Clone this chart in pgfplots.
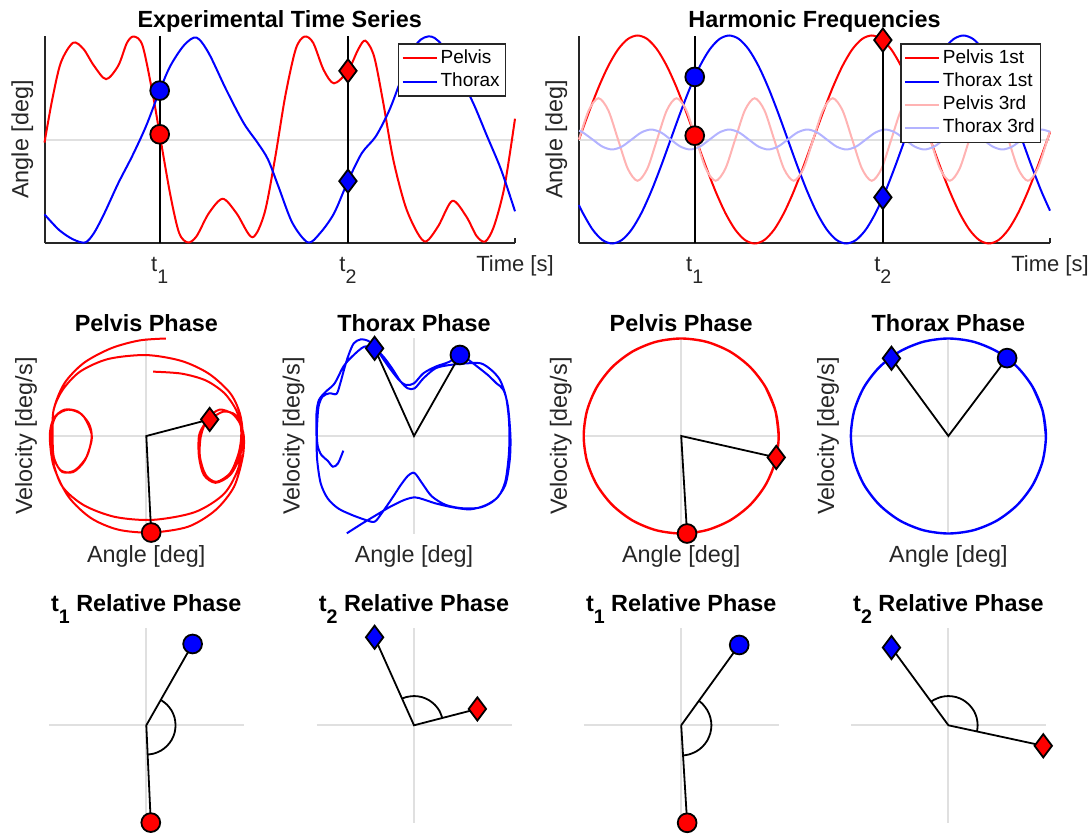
\documentclass[border=0pt]{standalone}
\usepackage{fontspec}
\setmainfont{Liberation Sans}
\usepackage{pgfplots}
\usepackage{pgfplotstable}
\pgfplotsset{compat=1.18}
\definecolor{axgray}{RGB}{38,38,38}
\definecolor{zgray}{RGB}{224,224,224}
\definecolor{pred3}{RGB}{255,179,179}
\definecolor{tblue3}{RGB}{179,179,255}
\newcommand{\lblfont}{\fontsize{11.7}{14}\selectfont}
\newcommand{\ttlfont}{\fontsize{11.7}{14}\selectfont\bfseries}
\newcommand{\tickfont}{\fontsize{11}{13}\selectfont}
\newcommand{\legfont}{\fontsize{9.5}{11}\selectfont}
\newcommand{\tsub}[1]{\raisebox{-5.8pt}{\fontsize{9.8}{11}\selectfont #1}}

\pgfplotstableread{
t p
128 -0.03
150 0.38
175 0.74
210 0.93
240 0.87
270 0.71
305 0.58
340 0.71
365 0.93
385 0.99
410 0.90
440 0.42
459 0.05
490 -0.54
515 -0.90
540 -0.99
565 -0.93
600 -0.71
640 -0.57
680 -0.71
725 -0.94
760 -0.71
790 -0.19
820 0.42
850 0.87
875 0.99
900 0.93
930 0.67
960 0.54
1000 0.66
1030 0.87
1050 0.95
1075 0.80
1100 0.38
1130 -0.19
1165 -0.64
1200 -0.90
1225 -0.98
1260 -0.83
1300 -0.59
1340 -0.74
1370 -0.93
1395 -0.98
1420 -0.83
1450 -0.45
1480 0.20
}\tsPelvis

\pgfplotstableread{
t p
128 -0.72
170 -0.87
210 -0.96
245 -0.99
270 -0.90
300 -0.71
340 -0.42
380 -0.16
420 0.13
459 0.47
490 0.71
530 0.91
565 0.98
600 0.83
650 0.48
700 0.16
740 -0.03
770 -0.19
800 -0.45
840 -0.80
885 -0.99
920 -0.90
960 -0.71
1000 -0.40
1040 -0.13
1080 0.03
1120 0.29
1160 0.64
1200 0.93
1240 0.99
1280 0.87
1320 0.61
1360 0.35
1400 0.03
1440 -0.29
1480 -0.69
}\tsThorax

\pgfplotstableread{
x r1 r3
0 0 0
15 0.259 0.281
30 0.5 0.397
45 0.707 0.281
60 0.866 0
75 0.966 -0.281
90 1 -0.397
105 0.966 -0.281
120 0.866 0
135 0.707 0.281
150 0.5 0.397
165 0.259 0.281
180 0 0
195 -0.259 -0.281
210 -0.5 -0.397
225 -0.707 -0.281
240 -0.866 0
255 -0.966 0.281
270 -1 0.397
285 -0.966 0.281
300 -0.866 0
315 -0.707 -0.281
330 -0.5 -0.397
345 -0.259 -0.281
360 0 0
375 0.259 0.281
390 0.5 0.397
405 0.707 0.281
420 0.866 0
435 0.966 -0.281
450 1 -0.397
465 0.966 -0.281
480 0.866 0
495 0.707 0.281
510 0.5 0.397
525 0.259 0.281
540 0 0
555 -0.259 -0.281
570 -0.5 -0.397
585 -0.707 -0.281
600 -0.866 0
615 -0.966 0.281
630 -1 0.397
645 -0.966 0.281
660 -0.866 0
675 -0.707 -0.281
690 -0.5 -0.397
705 -0.259 -0.281
720 0 0
724 0.070 0.083
}\harmPelvis

\pgfplotstableread{
x b1 b3
0 -0.631 0.085
5.9 -0.707 0.068
20.9 -0.866 0
35.9 -0.966 -0.068
50.9 -1 -0.096
65.9 -0.966 -0.068
80.9 -0.866 0
95.9 -0.707 0.068
110.9 -0.5 0.096
125.9 -0.259 0.068
140.9 0 0
155.9 0.259 -0.068
170.9 0.5 -0.096
185.9 0.707 -0.068
200.9 0.866 0
215.9 0.966 0.068
230.9 1 0.096
245.9 0.966 0.068
260.9 0.866 0
275.9 0.707 -0.068
290.9 0.5 -0.096
305.9 0.259 -0.068
320.9 0 0
335.9 -0.259 0.068
350.9 -0.5 0.096
365.9 -0.707 0.068
380.9 -0.866 0
395.9 -0.966 -0.068
410.9 -1 -0.096
425.9 -0.966 -0.068
440.9 -0.866 0
455.9 -0.707 0.068
470.9 -0.5 0.096
485.9 -0.259 0.068
500.9 0 0
515.9 0.259 -0.068
530.9 0.5 -0.096
545.9 0.707 -0.068
560.9 0.866 0
575.9 0.966 0.068
590.9 1 0.096
605.9 0.966 0.068
620.9 0.866 0
635.9 0.707 -0.068
650.9 0.5 -0.096
665.9 0.259 -0.068
680.9 0 0
695.9 -0.259 0.068
710.9 -0.5 0.096
724 -0.684 0.074
}\harmThorax

\pgfplotsset{
  topax/.style={scale only axis, height=104pt, anchor=south west,
    ymin=-1, ymax=1, clip=false,
    axis x line=bottom, axis y line=left,
    axis line style={-, draw=axgray, line width=1pt},
    ytick=\empty,
    xticklabels={t\tsub{1}, t\tsub{2}, Time [s]},
    tick align=inside, major tick length=2.5pt,
    xtick style={draw=axgray, line width=1pt},
    xticklabel style={font=\tickfont, text=axgray, anchor=base, yshift=-14pt},
    legend cell align=left,
    legend style={at={(1,1)}, anchor=north east, xshift=-4.5pt, yshift=-3.9pt,
      draw=axgray, line width=0.75pt, font=\legfont,
      inner xsep=1.45pt, inner ysep=1.35pt, row sep=0pt,
      nodes={inner xsep=1.3pt, inner ysep=1.3pt, text height=7pt, text depth=2pt}},
    legend image code/.code={\draw[##1, line width=1pt] (0pt,0pt) -- (17.25pt,0pt);},
  },
  phase/.style={scale only axis, width=97.5pt, height=97.5pt, anchor=south west,
    xmin=-1, xmax=1, ymin=-1, ymax=1, hide axis, clip=false},
  zline/.style={zgray, line width=1pt, forget plot},
  mcirc/.style={only marks, mark=*, mark size=4.7pt, mark options={fill=#1, draw=black, line width=0.9pt}, forget plot},
  mdiam/.style={only marks, mark=diamond*, mark size=5.8pt, mark options={fill=#1, draw=black, line width=0.9pt}, forget plot},
  bl/.style={black, line width=0.9pt, forget plot},
}

\begin{document}
\begin{tikzpicture}
\path[use as bounding box] (0pt,0pt) rectangle (546pt,-417pt);

% ---------------- Experimental time series ----------------
\begin{axis}[topax, at={(22.25pt,-121.75pt)}, width=235.25pt,
  xmin=128, xmax=1480, xtick={459,1000,1480}]
\addplot[zline] coordinates {(128,0) (1480,0)};
\addplot[red, line width=1pt, smooth] table[x=t, y=p] {\tsPelvis};
\addlegendentry{Pelvis}
\addplot[blue, line width=1pt, smooth] table[x=t, y=p] {\tsThorax};
\addlegendentry{Thorax}
\addplot[black, line width=1pt, forget plot] coordinates {(459,-1) (459,1)};
\addplot[black, line width=1pt, forget plot] coordinates {(1000,-1) (1000,1)};
\addplot[mcirc=blue] coordinates {(459,0.47)};
\addplot[mcirc=red] coordinates {(459,0.05)};
\addplot[mdiam=red] coordinates {(1000,0.66)};
\addplot[mdiam=blue] coordinates {(1000,-0.40)};
\node[font=\ttlfont, anchor=base] at (axis description cs:0.5,1.0385) {Experimental Time Series};
\node[font=\lblfont, text=axgray, rotate=90] at (axis description cs:-0.047,0.5) {Angle [deg]};
\end{axis}

% ---------------- Harmonic frequencies ----------------
\begin{axis}[topax, at={(289.5pt,-121.75pt)}, width=235.5pt,
  xmin=0, xmax=724, xtick={177.9,467.1,724}]
\addplot[zline] coordinates {(0,0) (724,0)};
\addplot[red, line width=1pt, smooth] table[x=x, y=r1] {\harmPelvis};
\addlegendentry{Pelvis 1st}
\addplot[blue, line width=1pt, smooth] table[x=x, y=b1] {\harmThorax};
\addlegendentry{Thorax 1st}
\addplot[pred3, line width=1pt, smooth] table[x=x, y=r3] {\harmPelvis};
\addlegendentry{Pelvis 3rd}
\addplot[tblue3, line width=1pt, smooth] table[x=x, y=b3] {\harmThorax};
\addlegendentry{Thorax 3rd}
\addplot[black, line width=1pt, forget plot] coordinates {(177.9,-1) (177.9,1)};
\addplot[black, line width=1pt, forget plot] coordinates {(467.1,-1) (467.1,1)};
\addplot[mcirc=blue] coordinates {(177.9,0.602)};
\addplot[mcirc=red] coordinates {(177.9,0.037)};
\addplot[mdiam=red] coordinates {(467.1,0.956)};
\addplot[mdiam=blue] coordinates {(467.1,-0.556)};
\node[font=\ttlfont, anchor=base] at (axis description cs:0.5,1.0385) {Harmonic Frequencies};
\node[font=\lblfont, text=axgray, rotate=90] at (axis description cs:-0.048,0.5) {Angle [deg]};
\end{axis}

% ---------------- Pelvis phase (experimental) ----------------
\begin{axis}[phase, at={(24.4pt,-266.75pt)}]
\addplot[zline] coordinates {(-1,0) (1,0)};
\addplot[zline] coordinates {(0,-1) (0,1)};
\addplot[red, line width=1pt, smooth] coordinates {
(0.07,0.66) (0.36,0.64) (0.61,0.57) (0.80,0.44) (0.92,0.27) (0.97,0.10) (0.97,-0.05) (0.94,-0.20) (0.86,-0.38) (0.72,-0.47) (0.61,-0.40) (0.55,-0.21) (0.56,0) (0.63,0.18) (0.75,0.27) (0.88,0.23) (0.96,0.13) (1.0,0)
(0.99,-0.21) (0.90,-0.52) (0.71,-0.76) (0.43,-0.93) (0.05,-0.99) (-0.29,-0.96) (-0.57,-0.84) (-0.80,-0.62) (-0.95,-0.31) (-0.99,0)
(-0.95,0.18) (-0.84,0.27) (-0.70,0.25) (-0.59,0.13) (-0.56,-0.01) (-0.61,-0.21) (-0.73,-0.35) (-0.86,-0.37) (-0.94,-0.25) (-0.965,-0.11) (-0.965,0.02)
(-0.95,0.27) (-0.86,0.47) (-0.68,0.66) (-0.39,0.79) (0,0.83) (0.36,0.77) (0.64,0.64) (0.86,0.44) (0.96,0.23) (0.99,0)
(0.96,-0.21) (0.86,-0.40) (0.71,-0.48) (0.59,-0.40) (0.54,-0.21) (0.54,0) (0.59,0.11) (0.65,0.17) (0.79,0.25) (0.91,0.22) (0.97,0.10) (0.975,0)
(0.95,-0.31) (0.80,-0.59) (0.50,-0.78) (0.07,-0.86) (-0.32,-0.83) (-0.64,-0.71) (-0.86,-0.52) (-0.96,-0.25) (-0.98,0)
(-0.93,0.20) (-0.80,0.27) (-0.66,0.22) (-0.58,0.08) (-0.56,-0.04) (-0.63,-0.25) (-0.75,-0.37) (-0.88,-0.35) (-0.95,-0.21) (-0.96,0)
(-0.95,0.27) (-0.84,0.54) (-0.64,0.75) (-0.36,0.90) (-0.07,0.98) (0.20,1.0)};
\addplot[bl] coordinates {(0.65,0.17) (0,0) (0.05,-0.99)};
\addplot[mdiam=red] coordinates {(0.65,0.17)};
\addplot[mcirc=red] coordinates {(0.05,-0.99)};
\node[font=\ttlfont, anchor=base] at (axis description cs:0.5,1.038) {Pelvis Phase};
\node[font=\lblfont, text=axgray, rotate=90] at (axis description cs:-0.117,0.5) {Velocity [deg/s]};
\node[font=\lblfont, text=axgray] at (axis description cs:0.5,-0.119) {Angle [deg]};
\end{axis}

% ---------------- Thorax phase (experimental) ----------------
\begin{axis}[phase, at={(158.25pt,-266.75pt)}]
\addplot[zline] coordinates {(-1,0) (1,0)};
\addplot[zline] coordinates {(0,-1) (0,1)};
\addplot[blue, line width=1pt, smooth] coordinates {
(-0.725,-0.15) (-0.779,-0.28) (-0.832,-0.315) (-0.886,-0.253) (-0.95,-0.195) (-0.986,-0.109) (-0.996,0)
(-0.993,0.13) (-0.979,0.301) (-0.939,0.403) (-0.868,0.438) (-0.796,0.431) (-0.761,0.523) (-0.714,0.694) (-0.671,0.831) (-0.618,0.95) (-0.546,0.991) (-0.457,0.968) (-0.368,0.865) (-0.261,0.711) (-0.154,0.574) (-0.082,0.523) (0,0.54) (0.096,0.643) (0.221,0.711) (0.364,0.762) (0.471,0.831) (0.561,0.779) (0.65,0.711) (0.757,0.626) (0.846,0.54) (0.918,0.472) (0.964,0.301) (0.989,0)
(0.982,-0.246) (0.936,-0.503) (0.829,-0.656) (0.686,-0.732) (0.507,-0.742) (0.329,-0.708) (0.186,-0.622) (0.096,-0.503) (0.025,-0.4) (-0.011,-0.376) (-0.064,-0.41) (-0.136,-0.503) (-0.225,-0.639) (-0.332,-0.793) (-0.404,-0.879) (-0.493,-0.862) (-0.636,-0.81) (-0.779,-0.742) (-0.886,-0.639) (-0.957,-0.485) (-0.993,-0.246) (-1.0,0)
(-1.0,0.232) (-0.975,0.369) (-0.904,0.455) (-0.814,0.54) (-0.725,0.711) (-0.636,0.814) (-0.511,0.916) (-0.404,0.899) (-0.314,0.814) (-0.225,0.694) (-0.136,0.557) (-0.064,0.489) (0.007,0.489) (0.096,0.591) (0.221,0.694) (0.364,0.728) (0.543,0.745) (0.686,0.745) (0.793,0.677) (0.882,0.574) (0.943,0.403) (0.971,0.198) (0.979,0)
(0.971,-0.212) (0.936,-0.468) (0.864,-0.622) (0.739,-0.708) (0.579,-0.752) (0.4,-0.732) (0.221,-0.691) (0.096,-0.65) (0.007,-0.629) (-0.1,-0.656) (-0.243,-0.725) (-0.386,-0.81) (-0.529,-0.896) (-0.689,-0.998)};
\addplot[bl] coordinates {(-0.404,0.899) (0,0) (0.471,0.831)};
\addplot[mdiam=blue] coordinates {(-0.404,0.899)};
\addplot[mcirc=blue] coordinates {(0.471,0.831)};
\node[font=\ttlfont, anchor=base] at (axis description cs:0.5,1.038) {Thorax Phase};
\node[font=\lblfont, text=axgray, rotate=90] at (axis description cs:-0.117,0.5) {Velocity [deg/s]};
\node[font=\lblfont, text=axgray] at (axis description cs:0.5,-0.119) {Angle [deg]};
\end{axis}

% ---------------- Pelvis phase (harmonic) ----------------
\begin{axis}[phase, at={(291.85pt,-266.75pt)}]
\addplot[zline] coordinates {(-1,0) (1,0)};
\addplot[zline] coordinates {(0,-1) (0,1)};
\addplot[red, line width=1.2pt, smooth] coordinates {
(1,0) (0.966,0.259) (0.866,0.5) (0.707,0.707) (0.5,0.866) (0.259,0.966) (0,1) (-0.259,0.966) (-0.5,0.866) (-0.707,0.707) (-0.866,0.5) (-0.966,0.259) (-1,0) (-0.966,-0.259) (-0.866,-0.5) (-0.707,-0.707) (-0.5,-0.866) (-0.259,-0.966) (0,-1) (0.259,-0.966) (0.5,-0.866) (0.707,-0.707) (0.866,-0.5) (0.966,-0.259) (1,0) (0.966,0.259) (0.866,0.5)};
\addplot[bl] coordinates {(0.975,-0.22) (0,0) (0.06,-1.0)};
\addplot[mdiam=red] coordinates {(0.975,-0.22)};
\addplot[mcirc=red] coordinates {(0.06,-1.0)};
\node[font=\ttlfont, anchor=base] at (axis description cs:0.5,1.038) {Pelvis Phase};
\node[font=\lblfont, text=axgray, rotate=90] at (axis description cs:-0.117,0.5) {Velocity [deg/s]};
\node[font=\lblfont, text=axgray] at (axis description cs:0.5,-0.119) {Angle [deg]};
\end{axis}

% ---------------- Thorax phase (harmonic) ----------------
\begin{axis}[phase, at={(425.45pt,-266.75pt)}]
\addplot[zline] coordinates {(-1,0) (1,0)};
\addplot[zline] coordinates {(0,-1) (0,1)};
\addplot[blue, line width=1.2pt, smooth] coordinates {
(1,0) (0.966,0.259) (0.866,0.5) (0.707,0.707) (0.5,0.866) (0.259,0.966) (0,1) (-0.259,0.966) (-0.5,0.866) (-0.707,0.707) (-0.866,0.5) (-0.966,0.259) (-1,0) (-0.966,-0.259) (-0.866,-0.5) (-0.707,-0.707) (-0.5,-0.866) (-0.259,-0.966) (0,-1) (0.259,-0.966) (0.5,-0.866) (0.707,-0.707) (0.866,-0.5) (0.966,-0.259) (1,0) (0.966,0.259) (0.866,0.5)};
\addplot[bl] coordinates {(-0.584,0.797) (0,0) (0.602,0.799)};
\addplot[mdiam=blue] coordinates {(-0.584,0.797)};
\addplot[mcirc=blue] coordinates {(0.602,0.799)};
\node[font=\ttlfont, anchor=base] at (axis description cs:0.5,1.038) {Thorax Phase};
\node[font=\lblfont, text=axgray, rotate=90] at (axis description cs:-0.117,0.5) {Velocity [deg/s]};
\node[font=\lblfont, text=axgray] at (axis description cs:0.5,-0.119) {Angle [deg]};
\end{axis}

% ---------------- t1 relative phase (experimental) ----------------
\begin{axis}[phase, at={(24.4pt,-411.4pt)}]
\addplot[zline] coordinates {(-1,0) (1,0)};
\addplot[zline] coordinates {(0,-1) (0,1)};
\addplot[bl] coordinates {(0.475,0.834) (0,0) (0.046,-0.998)};
\addplot[bl, smooth] coordinates {(0.149,0.261) (0.212,0.212) (0.260,0.150) (0.290,0.078) (0.300,0) (0.290,-0.078) (0.260,-0.150) (0.212,-0.212) (0.150,-0.260) (0.078,-0.290) (0.014,-0.300)};
\addplot[mcirc=blue] coordinates {(0.475,0.834)};
\addplot[mcirc=red] coordinates {(0.046,-0.998)};
\node[font=\ttlfont, anchor=base] at (axis description cs:0.5,1.082) {t\tsub{1} Relative Phase};
\end{axis}

% ---------------- t2 relative phase (experimental) ----------------
\begin{axis}[phase, at={(158.25pt,-411.4pt)}]
\addplot[zline] coordinates {(-1,0) (1,0)};
\addplot[zline] coordinates {(0,-1) (0,1)};
\addplot[bl] coordinates {(-0.404,0.903) (0,0) (0.65,0.168)};
\addplot[bl, smooth] coordinates {(-0.122,0.274) (-0.078,0.290) (0,0.3) (0.078,0.290) (0.150,0.260) (0.212,0.212) (0.260,0.150) (0.290,0.075)};
\addplot[mdiam=blue] coordinates {(-0.404,0.903)};
\addplot[mdiam=red] coordinates {(0.65,0.168)};
\node[font=\ttlfont, anchor=base] at (axis description cs:0.5,1.082) {t\tsub{2} Relative Phase};
\end{axis}

% ---------------- t1 relative phase (harmonic) ----------------
\begin{axis}[phase, at={(291.85pt,-411.4pt)}]
\addplot[zline] coordinates {(-1,0) (1,0)};
\addplot[zline] coordinates {(0,-1) (0,1)};
\addplot[bl] coordinates {(0.595,0.824) (0,0) (0.061,-1.0)};
\addplot[bl, smooth] coordinates {(0.182,0.251) (0.219,0.219) (0.268,0.155) (0.299,0.080) (0.31,0) (0.299,-0.080) (0.268,-0.155) (0.219,-0.219) (0.155,-0.268) (0.080,-0.299) (0.019,-0.309)};
\addplot[mcirc=blue] coordinates {(0.595,0.824)};
\addplot[mcirc=red] coordinates {(0.061,-1.0)};
\node[font=\ttlfont, anchor=base] at (axis description cs:0.5,1.082) {t\tsub{1} Relative Phase};
\end{axis}

% ---------------- t2 relative phase (harmonic) ----------------
\begin{axis}[phase, at={(425.45pt,-411.4pt)}]
\addplot[zline] coordinates {(-1,0) (1,0)};
\addplot[zline] coordinates {(0,-1) (0,1)};
\addplot[bl] coordinates {(-0.584,0.797) (0,0) (0.973,-0.21)};
\addplot[bl, smooth] coordinates {(-0.177,0.242) (-0.150,0.260) (-0.078,0.290) (0,0.3) (0.078,0.290) (0.150,0.260) (0.212,0.212) (0.260,0.150) (0.290,0.078) (0.3,0) (0.293,-0.063)};
\addplot[mdiam=blue] coordinates {(-0.584,0.797)};
\addplot[mdiam=red] coordinates {(0.973,-0.21)};
\node[font=\ttlfont, anchor=base] at (axis description cs:0.5,1.082) {t\tsub{2} Relative Phase};
\end{axis}
\end{tikzpicture}
\end{document}
